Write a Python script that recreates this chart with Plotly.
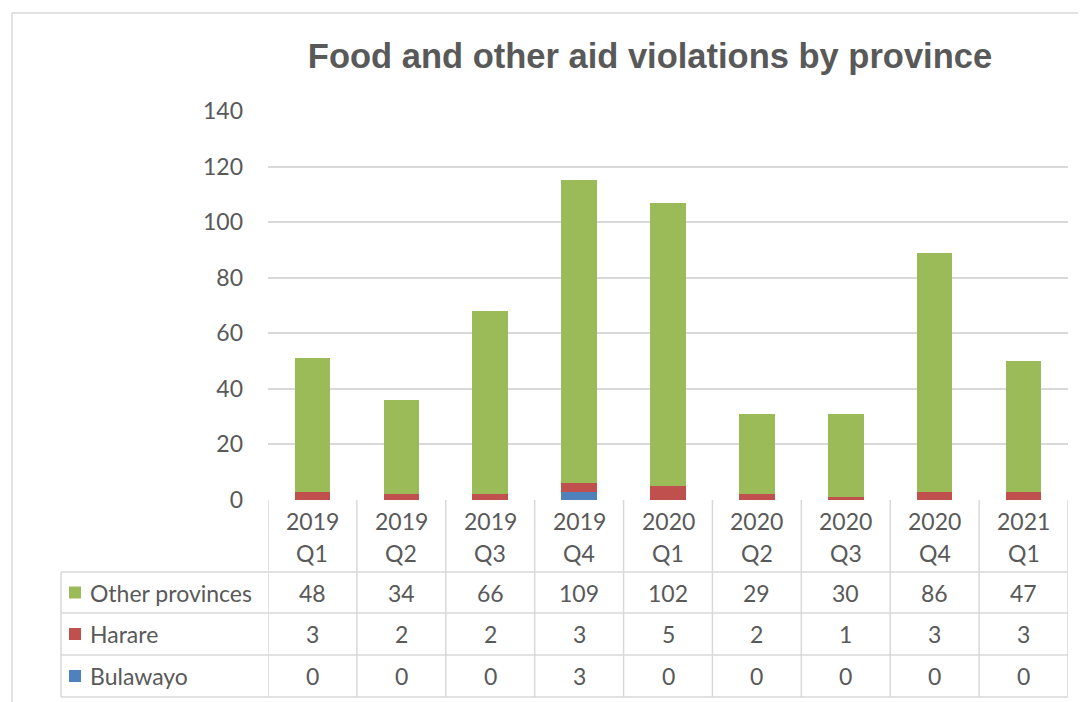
import plotly.graph_objects as go

categories = ["2019 Q1", "2019 Q2", "2019 Q3", "2019 Q4", "2020 Q1",
              "2020 Q2", "2020 Q3", "2020 Q4", "2021 Q1"]
other_provinces = [48, 34, 66, 109, 102, 29, 30, 86, 47]
harare = [3, 2, 2, 3, 5, 2, 1, 3, 3]
bulawayo = [0, 0, 0, 3, 0, 0, 0, 0, 0]
y_ticks = [0, 20, 40, 60, 80, 100, 120, 140]

series = [("Other provinces", other_provinces, "#9BBB59"),
          ("Harare", harare, "#C0504D"),
          ("Bulawayo", bulawayo, "#4F81BD")]

W, H = 1086, 702
OFF = 8  # page body margin
PX0, PX1, PY0, PY1 = 268 - OFF, 1068 - OFF, 111 - OFF, 500 - OFF  # plot area in figure pixels
TXT = "#595959"
GRID = "#D9D9D9"
FONT = "Lato"
FS = 23


def px(x):
    return (x - OFF - PX0) / (PX1 - PX0)


def py(y):
    return (PY1 - (y - OFF)) / (PY1 - PY0)


xs = list(range(len(categories)))
fig = go.Figure()
for name, vals, col in reversed(series):
    fig.add_trace(go.Bar(x=xs, y=vals, name=name, marker=dict(color=col, line=dict(width=0)),
                         width=0.4, showlegend=False, hoverinfo="x+y+name"))

shapes = []
annotations = []
line = dict(color=GRID, width=1.5)

# table lines
for i in range(len(categories) + 1):
    shapes.append(dict(type="line", xref="x", yref="paper", x0=i - 0.5, x1=i - 0.5,
                       y0=py(500), y1=py(697), line=line))
shapes.append(dict(type="line", xref="paper", yref="paper", x0=px(61), x1=px(61),
                   y0=py(572), y1=py(697), line=line))
for yy in [572, 613, 655, 697]:
    shapes.append(dict(type="line", xref="paper", yref="paper", x0=px(61), x1=1,
                       y0=py(yy), y1=py(yy), line=line))
# chart border
shapes.append(dict(type="rect", xref="paper", yref="paper", x0=px(12), x1=px(1100),
                   y0=py(13), y1=py(720), line=line, layer="below"))

# header labels
for i, c in enumerate(categories):
    yr, q = c.split(" ")
    annotations.append(dict(x=i, y=py(521), xref="x", yref="paper", text=yr, showarrow=False,
                            font=dict(family=FONT, size=FS, color=TXT), xanchor="center", yanchor="middle"))
    annotations.append(dict(x=i, y=py(553), xref="x", yref="paper", text=q, showarrow=False,
                            font=dict(family=FONT, size=FS, color=TXT), xanchor="center", yanchor="middle"))

row_y = [592.5, 634, 676]
for (name, vals, col), ry in zip(series, row_y):
    shapes.append(dict(type="rect", xref="paper", yref="paper", x0=px(69), x1=px(81),
                       y0=py(ry + 6), y1=py(ry - 6), fillcolor=col, line=dict(width=0)))
    annotations.append(dict(x=px(88), y=py(ry), xref="paper", yref="paper", text=name, showarrow=False,
                            font=dict(family=FONT, size=FS, color=TXT), xanchor="left", yanchor="middle"))
    for i, v in enumerate(vals):
        annotations.append(dict(x=i, y=py(ry), xref="x", yref="paper", text=str(v), showarrow=False,
                                font=dict(family=FONT, size=FS, color=TXT), xanchor="center", yanchor="middle"))

fig.update_layout(
    width=W, height=H,
    margin=dict(l=PX0, r=W - PX1, t=PY0, b=H - PY1, pad=0),
    paper_bgcolor="white", plot_bgcolor="white",
    barmode="stack",
    title=dict(text="<b>Food and other aid violations by province</b>", x=px(650), xref="paper",
               xanchor="center", y=1 - (56 - OFF) / H, yanchor="middle",
               font=dict(family="Liberation Sans", size=34.5, color=TXT)),
    xaxis=dict(range=[-0.5, len(categories) - 0.5], showticklabels=False, showgrid=False,
               zeroline=False, showline=False, ticks=""),
    yaxis=dict(range=[0, 140], tickvals=y_ticks, showgrid=True, gridcolor=GRID, gridwidth=1.5,
               zeroline=False, showline=False, ticks="", ticklabelstandoff=24,
               tickfont=dict(family=FONT, size=FS, color=TXT)),
    shapes=shapes, annotations=annotations,
)

fig.write_html("out.html")
